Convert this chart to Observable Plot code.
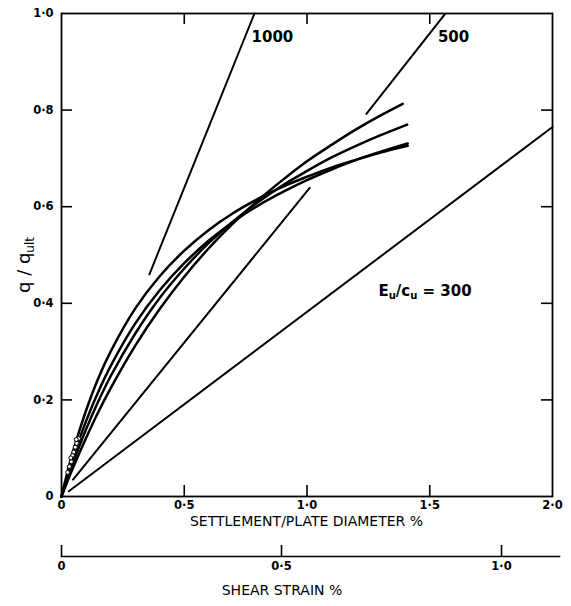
<!DOCTYPE html>
<html>
<head>
<meta charset="utf-8">
<script src="https://cdn.jsdelivr.net/npm/d3@7"></script>
<script src="https://cdn.jsdelivr.net/npm/@observablehq/plot@0.6"></script>
<style>
  html, body { margin: 0; padding: 0; background: white; }
  svg { display: block; }
</style>
</head>
<body>
<div id="chart"></div>
<script>
// ---- data (settlement/plate diameter %, q/q_ult) ----
const xTicks = [0, 0.5, 1.0, 1.5, 2.0];
const yTicks = [0, 0.2, 0.4, 0.6, 0.8, 1.0];
const xInnerTicks = [0.5, 1.0, 1.5];
const yInnerTicks = [0.2, 0.4, 0.6, 0.8];
const shearTicks = [0, 0.5, 1.0];

const curveA = [[0,0],[0.02,0.042],[0.05,0.0985],[0.1,0.178],[0.15,0.245],[0.2,0.300],[0.3,0.389],[0.4,0.456],[0.5,0.509],[0.6,0.552],[0.7,0.587],[0.8,0.616],[0.9,0.641],[1.0,0.662],[1.1,0.681],[1.2,0.697],[1.3,0.712],[1.41,0.726]];
const curveB = [[0,0],[0.02,0.0355],[0.05,0.084],[0.1,0.156],[0.15,0.217],[0.2,0.270],[0.3,0.358],[0.4,0.427],[0.5,0.483],[0.6,0.530],[0.7,0.569],[0.8,0.602],[0.9,0.630],[1.0,0.655],[1.1,0.677],[1.2,0.697],[1.3,0.714],[1.41,0.731]];
const curveC = [[0,0],[0.02,0.031],[0.05,0.074],[0.1,0.139],[0.15,0.197],[0.2,0.249],[0.3,0.337],[0.4,0.411],[0.5,0.472],[0.6,0.525],[0.7,0.570],[0.8,0.609],[0.9,0.644],[1.0,0.674],[1.1,0.702],[1.2,0.726],[1.3,0.748],[1.408,0.770]];
const curveD = [[0,0],[0.02,0.026],[0.05,0.063],[0.1,0.121],[0.15,0.175],[0.2,0.224],[0.3,0.312],[0.4,0.388],[0.5,0.455],[0.6,0.514],[0.7,0.566],[0.8,0.613],[0.9,0.655],[1.0,0.694],[1.1,0.728],[1.2,0.760],[1.3,0.789],[1.39,0.813]];

const markers = [[0.025,0.05],[0.032,0.062],[0.04,0.072],[0.045,0.085],[0.05,0.092],[0.056,0.102],[0.062,0.11],[0.07,0.12],[0.038,0.08],[0.06,0.118]];

const line300 = [[0.03,0.011],[2.0,0.765]];
const line500a = [[0.047,0.035],[1.011,0.639]];
const line500b = [[1.242,0.792],[1.561,0.998]];
const line1000 = [[0.358,0.46],[0.786,1.0]];

const annotations = [{x: 0.859, y: 0.950, label: "1000"}, {x: 1.597, y: 0.950, label: "500"}];

const fmt = d => d === 0 ? "0" : d.toFixed(1).replace(".", "·");
const font = "DejaVu Sans, Liberation Sans, sans-serif";

const W = 571, H = 530, ML = 61, MR = 19, MT = 13, MB = 34, TICK = 11;
const frameW = W - ML - MR, frameH = H - MT - MB;

const curveMark = (data) => Plot.line(data, {x: d => d[0], y: d => d[1], curve: "catmull-rom", strokeWidth: 2.5, stroke: "black"});
const lineMark = (data) => Plot.line(data, {x: d => d[0], y: d => d[1], strokeWidth: 2, stroke: "black"});

const main = Plot.plot({
  width: W, height: H,
  marginLeft: ML, marginRight: MR, marginTop: MT, marginBottom: MB,
  x: {domain: [0, 2]},
  y: {domain: [0, 1]},
  style: {fontFamily: font, fontSize: "11.5px", color: "black", background: "white"},
  marks: [
    Plot.frame({strokeWidth: 1.8, stroke: "black"}),
    Plot.tickX(xInnerTicks, {x: d => d, insetTop: frameH - TICK, strokeWidth: 1.6}),
    Plot.tickX(xInnerTicks, {x: d => d, insetBottom: frameH - TICK, strokeWidth: 1.6}),
    Plot.tickY(yInnerTicks, {y: d => d, insetRight: frameW - TICK, strokeWidth: 1.6}),
    Plot.tickY(yInnerTicks, {y: d => d, insetLeft: frameW - TICK, strokeWidth: 1.6}),
    Plot.axisX(xTicks, {anchor: "bottom", tickSize: 0, tickPadding: 4, tickFormat: fmt, fontWeight: "bold", label: null}),
    Plot.axisY(yTicks, {anchor: "left", tickSize: 0, tickPadding: 8, tickFormat: fmt, fontWeight: "bold", label: null}),
    lineMark(line300),
    lineMark(line500a),
    lineMark(line500b),
    lineMark(line1000),
    curveMark(curveA),
    curveMark(curveB),
    curveMark(curveC),
    curveMark(curveD),
    Plot.dot(markers, {x: d => d[0], y: d => d[1], r: 2, stroke: "black", strokeWidth: 1, fill: "white"}),
    Plot.text(annotations, {x: "x", y: "y", text: "label", fontSize: 15, fontWeight: "bold", fill: "black"})
  ]
});

const svg = d3.select(main);
const xs = main.scale("x"), ys = main.scale("y");

// y-axis title with subscript
const yt = svg.append("text")
  .attr("transform", "translate(30,265) rotate(-90)")
  .attr("text-anchor", "middle")
  .attr("font-family", font)
  .attr("font-size", 18)
  .attr("fill", "black");
yt.append("tspan").text("q / q");
yt.append("tspan").attr("font-size", 12).attr("dy", 4).text("ult");

// x-axis title
svg.append("text")
  .attr("x", (xs.apply(0) + xs.apply(2)) / 2)
  .attr("y", 526)
  .attr("text-anchor", "middle")
  .attr("font-family", font)
  .attr("font-size", 14)
  .attr("fill", "black")
  .text("SETTLEMENT/PLATE DIAMETER %");

// Eu/cu = 300 annotation
const et = svg.append("text")
  .attr("x", xs.apply(1.483))
  .attr("y", ys.apply(0.415))
  .attr("text-anchor", "middle")
  .attr("font-family", font)
  .attr("font-size", 15)
  .attr("font-weight", "bold")
  .attr("fill", "black");
et.append("tspan").text("E");
et.append("tspan").attr("font-size", 10).attr("dy", 3).text("u");
et.append("tspan").attr("dy", -3).text("/c");
et.append("tspan").attr("font-size", 10).attr("dy", 3).text("u");
et.append("tspan").attr("dy", -3).text(" = 300");

// secondary shear strain axis
const shear = Plot.plot({
  width: 571, height: 76,
  marginLeft: 61, marginRight: 12, marginTop: 15, marginBottom: 50,
  x: {domain: [0, 498 / 440]},
  style: {fontFamily: font, fontSize: "11.5px", color: "black", background: "white"},
  marks: [
    Plot.frame({anchor: "bottom", strokeWidth: 1.6, stroke: "black"}),
    Plot.tickX(shearTicks, {x: d => d, strokeWidth: 1.6}),
    Plot.axisX(shearTicks, {anchor: "bottom", tickSize: 0, tickPadding: 5, tickFormat: fmt, fontWeight: "bold", label: null})
  ]
});
d3.select(shear).append("text")
  .attr("x", 282)
  .attr("y", 65)
  .attr("text-anchor", "middle")
  .attr("font-family", font)
  .attr("font-size", 14)
  .attr("fill", "black")
  .text("SHEAR STRAIN %");

document.getElementById("chart").append(main, shear);
</script>
</body>
</html>
